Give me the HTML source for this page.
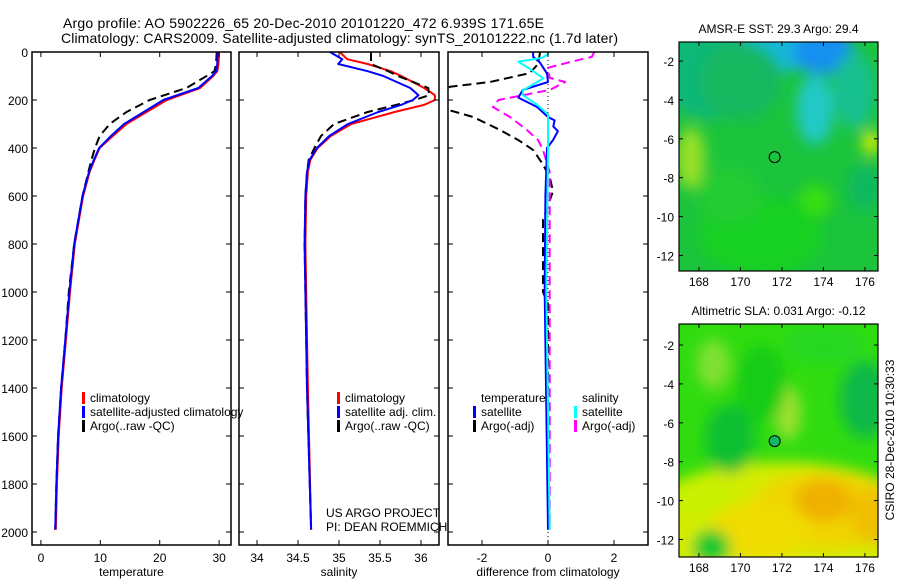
<!DOCTYPE html>
<html><head><meta charset="utf-8"><style>
html,body{margin:0;padding:0;background:#fff;width:900px;height:580px;overflow:hidden}
svg{display:block;font-family:"Liberation Sans",sans-serif}
</style></head><body>
<svg id="chart" width="900" height="580" viewBox="0 0 900 580"></svg>
<script>
// ---- data ----
const tempDepth=[0,50,80,100,150,200,250,300,350,400,450,500,600,800,1000,1200,1400,1600,1800,1990];
const tempClim=[30.0,29.9,29.7,29.0,26.8,21.2,17.8,14.4,12.1,9.9,9.0,8.2,7.1,5.7,4.9,4.2,3.5,3.0,2.7,2.5];
const tempSat=[29.7,29.7,29.5,28.8,26.5,20.6,17.3,14.0,11.8,9.8,8.9,8.1,7.0,5.6,4.8,4.1,3.4,2.9,2.6,2.4];
const tempArgo=[29.6,29.5,29.2,27.9,24.5,18.3,14.4,11.6,9.9,9.1,8.5,8.0,7.0,5.6,4.7,4.1,3.4,2.9,2.6,2.4];
const salDepth=[0,30,50,80,100,150,180,200,220,250,300,350,400,450,500,600,800,1000,1400,1990];
const salClim=[35.01,35.1,35.35,35.63,35.76,36.04,36.17,36.17,36.04,35.68,35.15,34.9,34.74,34.65,34.62,34.6,34.59,34.6,34.62,34.66];
const salSat=[34.89,35.04,34.99,35.35,35.54,35.87,35.97,35.9,35.76,35.48,35.11,34.88,34.73,34.64,34.61,34.59,34.58,34.59,34.61,34.66];
const salArgo=[35.39,35.39,35.39,35.6,35.72,36.09,36.1,35.92,35.7,35.35,34.94,34.78,34.7,34.63,34.61,34.59,34.58,34.59,34.61,34.66];
const tArgoDepth=[0,50,88,125,145,200,242,271,325,367,408,463,520,580,700,1000,1050,1990];
const tArgoDiff=[-0.24,-0.3,-0.55,-1.76,-2.97,-3.6,-3.0,-2.27,-1.45,-0.9,-0.45,-0.18,0.05,0.15,-0.15,-0.15,0,0];
const sArgoDepth=[0,20,45,66,108,125,158,200,229,271,325,367,408,500,1990];
const sArgoDiff=[1.4,1.33,0.58,0,0.05,0.52,0.06,-1.5,-1.67,-1.15,-0.64,-0.3,-0.15,0.05,0.05];
const tSatDepth=[0,20,45,90,125,158,190,229,271,285,310,330,367,400,600,1000,1990];
const tSatDiff=[-0.45,-0.45,-0.24,-0.03,0,-0.76,-0.9,-0.33,0,0.2,0.16,0.3,0.15,-0.03,-0.08,-0.1,0];
const sSatDepth=[0,10,25,40,70,110,160,180,220,260,300,400,1000,1990];
const sSatDiff=[0,0,-0.2,-0.9,-0.55,-0.14,-0.76,-0.76,-0.33,0,0,0,-0.05,0.05];
const depthTicks=[0,200,400,600,800,1000,1200,1400,1600,1800,2000];
const tempTicks=[0,10,20,30];
const salTicks=[34,34.5,35,35.5,36];
const diffTicks=[-2,0,2];
const latTicks=[-2,-4,-6,-8,-10,-12];
const lonTicks=[168,170,172,174,176];

const NS="http://www.w3.org/2000/svg";
const svg=document.getElementById('chart');
function el(tag,attrs,parent){const e=document.createElementNS(NS,tag);for(const k in attrs)e.setAttribute(k,attrs[k]);(parent||svg).appendChild(e);return e;}
function txt(x,y,s,anchor,size,parent){const t=el('text',{x:x,y:y,'font-size':size||12,'text-anchor':anchor||'start',fill:'#000'},parent);t.textContent=s;return t;}

const PT=52,PB=545;
const yD=d=>52+d*0.24;
const panels=[
 {x0:32,x1:231,xmin:-1.5,xmax:32,ticks:tempTicks,label:'temperature',name:'temperature-panel'},
 {x0:239,x1:439,xmin:33.78,xmax:36.22,ticks:salTicks,label:'salinity',name:'salinity-panel'},
 {x0:448,x1:648,xmin:-3.03,xmax:3.03,ticks:diffTicks,label:'difference from climatology',name:'difference-panel'}
];
panels.forEach((p,i)=>{
  p.sx=v=>p.x0+(v-p.xmin)/(p.xmax-p.xmin)*(p.x1-p.x0);
  const g=el('g',{});
  
  
  const cp=el('clipPath',{id:'clip'+i},g);
  el('rect',{x:p.x0,y:PT,width:p.x1-p.x0,height:PB-PT},cp);
  p.g=g;
  p.plot=el('g',{'clip-path':'url(#clip'+i+')'},g);
  depthTicks.forEach(d=>{const y=yD(d);
    el('line',{x1:p.x0,x2:p.x0+5,y1:y,y2:y,stroke:'#000'},g);
    el('line',{x1:p.x1,x2:p.x1-5,y1:y,y2:y,stroke:'#000'},g);
    if(i===0){const t=txt(28,y+5,String(d),'end',12,g);}
  });
  p.ticks.forEach(v=>{const x=p.sx(v);
    el('line',{x1:x,x2:x,y1:PT,y2:PT+5,stroke:'#000'},g);
    el('line',{x1:x,x2:x,y1:PB,y2:PB-5,stroke:'#000'},g);
    const t=txt(x,562,String(v),'middle',12,g);
    
    
  });
  el('rect',{x:p.x0,y:PT,width:p.x1-p.x0,height:PB-PT,fill:'none',stroke:'#000','stroke-width':1.5},g);
  const xl=txt((p.x0+p.x1)/2,576,p.label,'middle',12,g);
  
  
});
function line(p,vals,depths,color,dash,name){
  const pts=vals.map((v,k)=>p.sx(v).toFixed(1)+','+yD(depths[k]).toFixed(1)).join(' ');
  const a={points:pts,fill:'none',stroke:color,'stroke-width':2,'stroke-linejoin':'round'};
  if(dash)a['stroke-dasharray']=dash;
  const e=el('polyline',a,p.plot);
  
  
}
const P1=panels[0],P2=panels[1],P3=panels[2];
line(P1,tempClim,tempDepth,'#f00','', 'temp-climatology-line');
line(P1,tempArgo,tempDepth,'#000','9,5','temp-argo-line');
line(P1,tempSat,tempDepth,'#00f','', 'temp-satellite-line');
line(P2,salClim,salDepth,'#f00','', 'sal-climatology-line');
line(P2,salArgo,salDepth,'#000','9,5','sal-argo-line');
line(P2,salSat,salDepth,'#00f','', 'sal-satellite-line');
const zl=el('line',{x1:P3.sx(0),x2:P3.sx(0),y1:PT,y2:PB,stroke:'#000','stroke-dasharray':'1,3'},P3.plot);


line(P3,tArgoDiff,tArgoDepth,'#000','9,5','temp-argo-diff-line');
line(P3,sArgoDiff,sArgoDepth,'#f0f','9,5','sal-argo-diff-line');
line(P3,tSatDiff,tSatDepth,'#00f','', 'temp-satellite-diff-line');
line(P3,sSatDiff,sSatDepth,'#0ff','', 'sal-satellite-diff-line');

function legend(x,y,color,label,name){
  const g=el('g',{});
  
  
  if(color)el('rect',{x:x,y:y-10,width:3,height:12,fill:color},g);
  txt(x+8,y,label,'start',12,g);
}
legend(82,402,'#f00','climatology','legend-climatology');
legend(82,416,'#00f','satellite-adjusted climatology','legend-satellite-adjusted');
legend(82,430,'#000','Argo(..raw -QC)','legend-argo');
legend(337,402,'#f00','climatology','legend-sal-climatology');
legend(337,416,'#00f','satellite adj. clim.','legend-sal-satellite');
legend(337,430,'#000','Argo(..raw -QC)','legend-sal-argo');
legend(473,402,null,'temperature','legend-temperature-header');
legend(473,416,'#00f','satellite','legend-temp-satellite');
legend(473,430,'#000','Argo(-adj)','legend-temp-argo');
legend(574,402,null,'salinity','legend-salinity-header');
legend(574,416,'#0ff','satellite','legend-sal-satellite-diff');
legend(574,430,'#f0f','Argo(-adj)','legend-sal-argo-diff');
const c1=txt(326,517,'US ARGO PROJECT','start',12);
const c2=txt(326,531,'PI: DEAN ROEMMICH','start',12);

const t1=txt(63,28,'Argo profile: AO 5902226_65 20-Dec-2010 20101220_472 6.939S 171.65E','start',14);
t1.setAttribute('textLength','481');


const t2=txt(61,43,'Climatology: CARS2009. Satellite-adjusted climatology: synTS_20101222.nc (1.7d later)','start',14);
t2.setAttribute('textLength','557');



const defs=el('defs',{});
const f=el('filter',{id:'blur',x:'-20%',y:'-20%',width:'140%',height:'140%'},defs);
el('feGaussianBlur',{stdDeviation:7},f);
function map(y0,y1,latTop,latBot,title,name,base,blobs,circleFill){
  const x0=679,x1=878,lonL=167.04,lonR=176.63;
  const lx=l=>x0+(l-lonL)/(lonR-lonL)*(x1-x0);
  const ly=l=>y0+(latTop-l)/(latTop-latBot)*(y1-y0);
  const g=el('g',{});
  
  
  const cid='mc'+name;
  const cp=el('clipPath',{id:cid},defs);
  el('rect',{x:x0,y:y0,width:x1-x0,height:y1-y0},cp);
  const ig=el('g',{'clip-path':'url(#'+cid+')'},g);
  el('rect',{x:x0,y:y0,width:x1-x0,height:y1-y0,fill:base},ig);
  const bg=el('g',{filter:'url(#blur)'},ig);
  blobs.forEach(b=>el('ellipse',{cx:lx(b[0]),cy:ly(b[1]),rx:b[2]*20.7,ry:b[3]*19.4,fill:b[4]},bg));
  const c=el('circle',{cx:lx(171.65),cy:ly(-6.94),r:5.5,fill:circleFill,stroke:'#000','stroke-width':1},g);
  
  
  latTicks.forEach(v=>{const y=ly(v);
    el('line',{x1:x0,x2:x0+4,y1:y,y2:y,stroke:'#000'},g);
    el('line',{x1:x1,x2:x1-4,y1:y,y2:y,stroke:'#000'},g);
    const t=txt(x0-5,y+5,String(v),'end',12,g);});
  lonTicks.forEach(v=>{const x=lx(v);
    el('line',{x1:x,x2:x,y1:y0,y2:y0+4,stroke:'#000'},g);
    el('line',{x1:x,x2:x,y1:y1,y2:y1-4,stroke:'#000'},g);
    const t=txt(x,y1+15,String(v),'middle',12,g);});
  el('rect',{x:x0,y:y0,width:x1-x0,height:y1-y0,fill:'none',stroke:'#000','stroke-width':1.2},g);
  const tt=txt((x0+x1)/2,y0-9,title,'middle',12,g);
  
  
}
map(42,271,-1.02,-12.8,'AMSR-E SST: 29.3 Argo: 29.4','sst-map','#1cc43c',[
 [168.5,-2.5,2.5,2.5,'#10b878'],[172.5,-1.2,2.5,1.3,'#18b8d8'],[174,-1.5,1.5,1.2,'#1490f0'],
 [173.6,-4.5,0.9,1.8,'#20c8c8'],[170,-3,2,2,'#14b860'],[175.5,-3.5,1,2,'#18c090'],
 [167.6,-7,0.7,1.6,'#98e028'],[176.3,-6.2,0.4,0.6,'#e8f000'],[173.6,-9.2,0.8,0.8,'#38e010'],
 [171,-11,3,2,'#18d020'],[176,-8.5,0.8,1.2,'#10b860'],[169.5,-9,1.5,1.5,'#20cc30']
],'none');
map(324,557,-0.92,-12.9,'Altimetric SLA: 0.031 Argo: -0.12','sla-map','#30dc10',[
 [172,-11.2,7,3.2,'#d4ec00'],[174,-10.5,3.5,2,'#f0d400'],[171,-11.5,2.5,1.5,'#f0dc00'],[174,-10,1.4,1.1,'#f0b000'],[176.3,-10.8,1,1.5,'#f0c000'],
 [168,-9.8,1.8,1,'#c8f000'],[168.6,-12.4,0.9,0.9,'#10c830'],[169.5,-6.8,1.2,1.8,'#10c030'],
 [176,-4.8,1.2,2,'#10b848'],[172.3,-5.5,0.6,1.4,'#a0e030'],[168.7,-3,0.8,1.3,'#80e030'],
 [171,-4,1.2,2,'#18cc18'],[174,-2,2,1,'#28d820']
],'#10b868');
const cs=el('text',{x:0,y:0,'font-size':12,'text-anchor':'middle',transform:'translate(894,440) rotate(-90)'});
cs.textContent='CSIRO 28-Dec-2010 10:30:33';


</script>
</body></html>
